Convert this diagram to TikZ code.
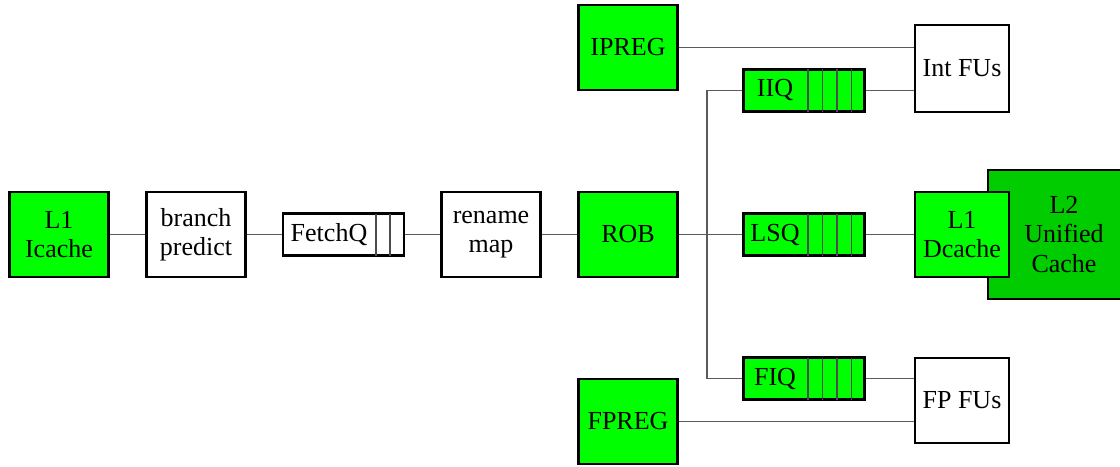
\documentclass[tikz,border=0pt]{standalone}
\usepackage{fontspec}
\setmainfont{Liberation Serif}
\definecolor{unitgreen}{HTML}{00FF00}
\definecolor{lgreen}{HTML}{00CC00}
\definecolor{wire}{HTML}{5A5A5A}
\begin{document}
\begin{tikzpicture}[x=0.75pt,y=-0.75pt,
  every node/.style={font=\fontsize{19.5}{22}\selectfont, align=center, inner sep=0pt},
  unit/.style={draw=black, line width=2pt, minimum width=99*0.75pt, minimum height=85*0.75pt},
  greenunit/.style={unit, fill=unitgreen},
  whiteunit/.style={unit, fill=white},
  queue/.style={draw=black, line width=2pt, minimum width=121*0.75pt, minimum height=42*0.75pt},
  cell/.style={draw=black!70, line width=0.8pt},
  link/.style={draw=wire, line width=0.8pt}]
\useasboundingbox (0,0) rectangle (1120,467);
\clip (0,0) rectangle (1120,467);

% shared L2 cache behind the data cache
\node[unit, fill=lgreen, minimum width=152*0.75pt, minimum height=129*0.75pt] (l2) at (1064,234.5) {L2\\Unified\\Cache};

% front end
\node[greenunit] (icache) at (59,234.5) {L1\\Icache};
\node[whiteunit] (bpred) at (196,234.5) {branch\\predict};
\node[queue, fill=white] (fetchq) at (343.5,234.5) {};
\node (fetchqlbl) at (329,234.5) {FetchQ};
\foreach \xx in {376,390} \draw[cell] (\xx,213.5) -- (\xx,255.5);
\node[whiteunit] (rename) at (491,234.5) {rename\\map};
\node[greenunit] (rob) at (628,234.5) {ROB};

% register files
\node[greenunit] (ipreg) at (628,47.5) {IPREG};
\node[greenunit] (fpreg) at (628,421.5) {FPREG};

% issue queues
\node[queue, fill=unitgreen] (iiq) at (804,90.5) {};
\node (iiqlbl) at (775,90.5) {IIQ};
\node[queue, fill=unitgreen] (lsq) at (804,234.5) {};
\node (lsqlbl) at (775,234.5) {LSQ};
\node[queue, fill=unitgreen] (fiq) at (804,378.5) {};
\node (fiqlbl) at (775,378.5) {FIQ};
\foreach \q in {iiq,lsq,fiq}
  \foreach \dx in {4,18.5,33,47.5}
    \draw[cell] ([xshift=\dx*0.75pt, yshift=-1pt]\q.north) -- ([xshift=\dx*0.75pt, yshift=1pt]\q.south);

% functional units and data cache
\node[whiteunit, minimum width=94*0.75pt, minimum height=87*0.75pt] (intfu) at (962,68.5) {Int FUs};
\node[whiteunit, minimum width=94*0.75pt] (fpfu) at (962,400.5) {FP FUs};
\node[greenunit, minimum width=94*0.75pt] (dcache) at (962,234.5) {L1\\Dcache};

% connections
\coordinate (spine) at (707,234.5);
\draw[link] (icache) -- (bpred);
\draw[link] (bpred) -- (fetchq);
\draw[link] (fetchq) -- (rename);
\draw[link] (rename) -- (rob);
\draw[link] (rob) -- (lsq);
\draw[link] (iiq.west) -| (spine) |- (fiq.west);
\draw[link] (lsq) -- (dcache);
\draw[link] (iiq.east) -- (iiq.east -| intfu.west);
\draw[link] (fiq.east) -- (fiq.east -| fpfu.west);
\draw[link] (ipreg.east) -- (ipreg.east -| intfu.west);
\draw[link] (fpreg.east) -- (fpreg.east -| fpfu.west);
\end{tikzpicture}
\end{document}
